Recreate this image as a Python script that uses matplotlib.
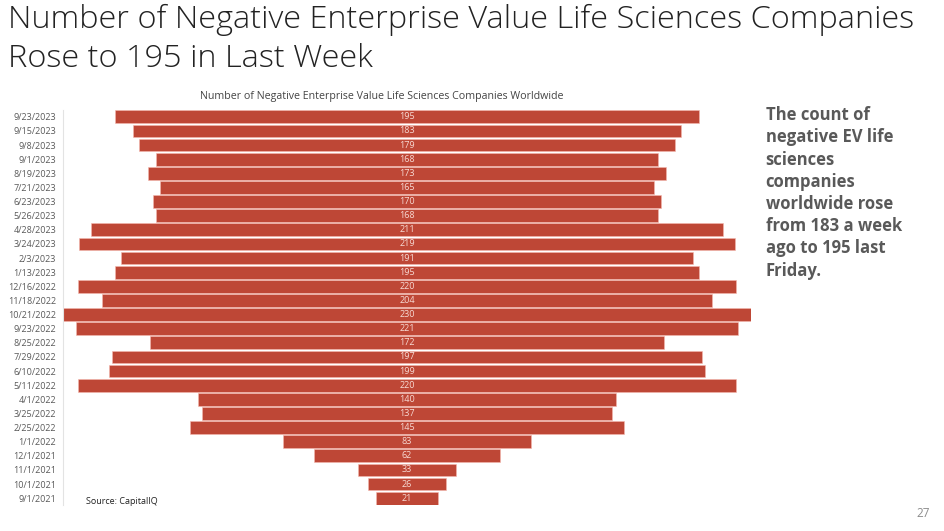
import matplotlib
matplotlib.use("Agg")
import matplotlib.pyplot as plt
import numpy as np

dates = ["9/23/2023", "9/15/2023", "9/8/2023", "9/1/2023", "8/19/2023", "7/21/2023",
         "6/23/2023", "5/26/2023", "4/28/2023", "3/24/2023", "2/3/2023", "1/13/2023",
         "12/16/2022", "11/18/2022", "10/21/2022", "9/23/2022", "8/25/2022", "7/29/2022",
         "6/10/2022", "5/11/2022", "4/1/2022", "3/25/2022", "2/25/2022", "1/1/2022",
         "12/1/2021", "11/1/2021", "10/1/2021", "9/1/2021"]
counts = [195, 183, 179, 168, 173, 165, 170, 168, 211, 219, 191, 195,
          220, 204, 230, 221, 172, 197, 199, 220, 140, 137, 145, 83,
          62, 33, 26, 21]

bar_color = "#BE4736"
grey = "#595959"

fig = plt.figure(figsize=(9.44, 5.31), dpi=100)
ax = fig.add_axes([0.0667, 0.0484, 0.7289, 0.745])

vals = np.array(counts)
y = np.arange(len(vals))
ax.barh(y, vals, left=-vals / 2, height=0.9, color=bar_color,
        edgecolor="#F4B8AE", linewidth=0.4)
for yi, v in zip(y, vals):
    ax.text(0, yi, str(v), ha="center", va="center", fontsize=6.5,
            color="#F7DAD4", family="Open Sans")

ax.set_xlim(-115, 115)
ax.set_ylim(len(vals) - 0.5, -0.5)
ax.set_yticks(y)
ax.set_yticklabels(dates, fontsize=6.5, color=grey, family="Open Sans")
ax.tick_params(axis="y", length=0, pad=5)
ax.set_xticks([])
for side in ["top", "right", "bottom"]:
    ax.spines[side].set_visible(False)
ax.spines["left"].set_color("#E3E3E3")
ax.spines["left"].set_linewidth(0.8)

# chart title, a bit left of the bar centre
fig.text(0.404, 0.818, "Number of Negative Enterprise Value Life Sciences Companies Worldwide",
         ha="center", va="center", fontsize=7.7, color="#444444", family="Open Sans")

fig.text(0.008, 0.993, "Number of Negative Enterprise Value Life Sciences Companies\nRose to 195 in Last Week",
         ha="left", va="top", fontsize=23.4, color="#222222", family="Open Sans",
         fontweight="light", linespacing=1.28)

fig.text(0.811, 0.80, "The count of\nnegative EV life\nsciences\ncompanies\nworldwide rose\nfrom 183 a week\nago to 195 last\nFriday.",
         ha="left", va="top", fontsize=12, color=grey, family="Open Sans",
         fontweight="bold", linespacing=1.3)

fig.text(0.091, 0.055, "Source: CapitalIQ", ha="left", va="center", fontsize=6.5,
         color="#222222", family="Open Sans")
fig.text(0.985, 0.033, "27", ha="right", va="center", fontsize=8.5, color="#8C8C8C",
         family="Open Sans")

fig.savefig("out.png", dpi=100)
